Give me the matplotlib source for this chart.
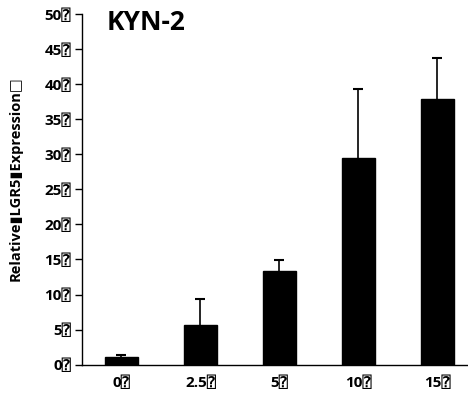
import matplotlib.pyplot as plt

# Data
doses = ['0', '2.5', '5', '10', '15']
expression = [1.1, 5.6, 13.3, 29.5, 37.8]
err_up = [0.3, 3.7, 1.55, 9.8, 5.9]
y_ticks = [0, 5, 10, 15, 20, 25, 30, 35, 40, 45, 50]

box = '\u2370'
plt.rcParams['font.family'] = ['Open Sans', 'DejaVu Sans', 'DejaVu Sans Mono']
plt.rcParams['font.weight'] = 'bold'

fig = plt.figure(figsize=(4.68, 4.0), dpi=100)
ax = fig.add_axes([0.1752, 0.0883, 0.8248, 0.877])

x = list(range(len(doses)))
ax.bar(x, expression, width=0.42, color='black', edgecolor='black', zorder=2)
eb = ax.errorbar(x, expression, yerr=[[0] * len(x), err_up], fmt='none',
                 ecolor='black', elinewidth=1.2, capsize=3.5, capthick=1.5, zorder=1)
# only the upper cap is shown
eb[1][0].set_visible(False)

ax.set_xlim(-0.5, -0.5 + 386 / 79)
ax.set_ylim(0, 50)
ax.set_yticks(y_ticks)
ax.set_yticklabels([f'{v}{box}' for v in y_ticks], fontsize=11, fontweight='bold')
ax.set_xticks(x)
ax.set_xticklabels([f'{d}{box}' for d in doses], fontsize=11, fontweight='bold')
ax.tick_params(axis='x', length=0, pad=8)
ax.tick_params(axis='y', length=5, width=1, pad=3)

for s in ['top', 'right']:
    ax.spines[s].set_visible(False)
ax.spines['left'].set_linewidth(1)
ax.spines['bottom'].set_linewidth(1)

ax.set_ylabel('Relative\u25aeLGR5\u25aeExpression\u25a1', fontsize=10.5, fontweight='bold')
ax.yaxis.set_label_coords(-0.155, 0.53)

ax.text(0.063, 0.975, 'KYN-2', transform=ax.transAxes, fontsize=19,
        fontweight='bold', va='center', ha='left')

fig.savefig('out.png', dpi=100)
